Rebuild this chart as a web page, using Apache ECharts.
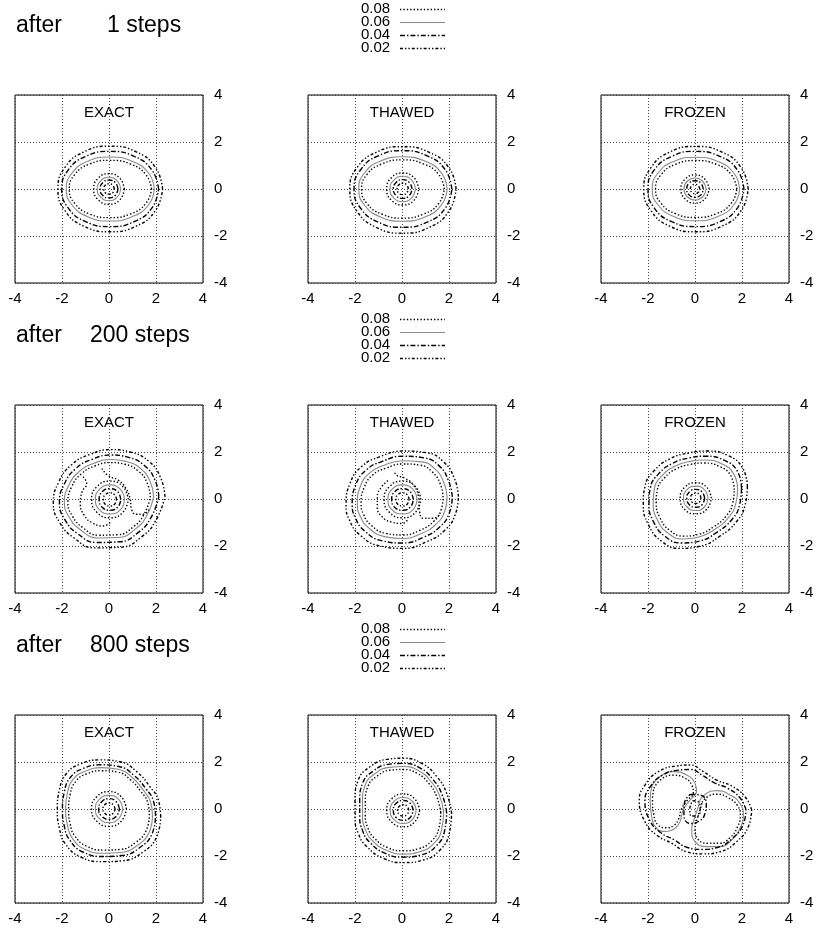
<!DOCTYPE html>
<html><head><meta charset="utf-8">
<script src="https://cdn.jsdelivr.net/npm/echarts@6/dist/echarts.min.js"></script>
<style>html,body{margin:0;padding:0;background:#fff}#c{width:817px;height:930px}</style>
</head><body><div id="c"></div>
<script>
const levels = ['0.08','0.06','0.04','0.02'];
const methods = ['EXACT','THAWED','FROZEN'];
const stepCounts = ['1','200','800'];
const axisMin = -4, axisMax = 4, axisStep = 2;

// ---- after 1 step ----
const E1_08 = [
 [[1.81,0],[1.57,0.61],[0.92,1.06],[0.03,1.22],[-0.83,1.06],[-1.46,0.61],[-1.69,0],[-1.46,-0.61],[-0.83,-1.06],[0.03,-1.22],[0.92,-1.06],[1.57,-0.61]],
 [[0.65,0],[0.46,0.46],[0,0.65],[-0.46,0.46],[-0.65,0],[-0.46,-0.46],[0,-0.65],[0.46,-0.46]]];
const E1_06 = [
 [[1.93,0],[1.68,0.68],[0.98,1.18],[0.03,1.36],[-0.9,1.18],[-1.57,0.68],[-1.82,0],[-1.57,-0.68],[-0.9,-1.18],[0.03,-1.36],[0.98,-1.18],[1.68,-0.68]],
 [[0.5,0],[0.35,0.35],[0,0.5],[-0.35,0.35],[-0.5,0],[-0.35,-0.35],[0,-0.5],[0.35,-0.35]]];
const E1_04 = [
 [[2.11,0],[1.83,0.8],[1.07,1.39],[0.03,1.6],[-0.99,1.39],[-1.74,0.8],[-2.01,0],[-1.74,-0.8],[-0.99,-1.39],[0.03,-1.6],[1.07,-1.39],[1.83,-0.8]],
 [[0.38,0],[0.27,0.27],[0,0.38],[-0.27,0.27],[-0.38,0],[-0.27,-0.27],[0,-0.38],[0.27,-0.27]]];
const E1_02 = [
 [[2.28,0],[1.98,0.91],[1.16,1.58],[0.03,1.82],[-1.07,1.58],[-1.88,0.91],[-2.17,0],[-1.88,-0.91],[-1.07,-1.58],[0.03,-1.82],[1.16,-1.58],[1.98,-0.91]],
 [[0.22,0],[0.16,0.16],[0,0.22],[-0.16,0.16],[-0.22,0],[-0.16,-0.16],[0,-0.22],[0.16,-0.16]]];

const T1_08 = [
 [[1.8,0],[1.56,0.62],[0.91,1.07],[0.02,1.24],[-0.85,1.07],[-1.49,0.62],[-1.72,0],[-1.49,-0.62],[-0.85,-1.07],[0.02,-1.24],[0.91,-1.07],[1.56,-0.62]],
 [[0.71,0],[0.51,0.48],[0.03,0.68],[-0.45,0.48],[-0.65,0],[-0.45,-0.48],[0.03,-0.68],[0.51,-0.48]]];
const T1_06 = [
 [[1.92,0],[1.67,0.69],[0.97,1.19],[0.02,1.37],[-0.91,1.19],[-1.59,0.69],[-1.84,0],[-1.59,-0.69],[-0.91,-1.19],[0.02,-1.37],[0.97,-1.19],[1.67,-0.69]],
 [[0.57,0],[0.41,0.38],[0.03,0.54],[-0.35,0.38],[-0.51,0],[-0.35,-0.38],[0.03,-0.54],[0.41,-0.38]]];
const T1_04 = [
 [[2.12,0],[1.84,0.82],[1.07,1.41],[0.02,1.63],[-1.01,1.41],[-1.76,0.82],[-2.04,0],[-1.76,-0.82],[-1.01,-1.41],[0.02,-1.63],[1.07,-1.41],[1.84,-0.82]],
 [[0.43,0],[0.31,0.28],[0.03,0.4],[-0.25,0.28],[-0.37,0],[-0.25,-0.28],[0.03,-0.4],[0.31,-0.28]]];
const T1_02 = [
 [[2.3,0],[2.0,0.9],[1.16,1.56],[0.02,1.8],[-1.1,1.56],[-1.92,0.9],[-2.22,0],[-1.92,-0.94],[-1.1,-1.63],[0.02,-1.88],[1.16,-1.63],[2.0,-0.94]],
 [[0.27,0],[0.2,0.17],[0.03,0.24],[-0.14,0.17],[-0.21,0],[-0.14,-0.17],[0.03,-0.24],[0.2,-0.17]]];

const F1_08 = [
 [[1.78,0],[1.55,0.6],[0.91,1.05],[0.02,1.21],[-0.83,1.05],[-1.45,0.6],[-1.68,0],[-1.45,-0.6],[-0.83,-1.05],[0.02,-1.21],[0.91,-1.05],[1.55,-0.6]],
 [[0.6,0],[0.42,0.42],[0,0.6],[-0.42,0.42],[-0.6,0],[-0.42,-0.42],[0,-0.6],[0.42,-0.42]]];
const F1_06 = [
 [[1.9,0],[1.65,0.68],[0.97,1.17],[0.02,1.35],[-0.9,1.17],[-1.57,0.68],[-1.82,0],[-1.57,-0.68],[-0.9,-1.17],[0.02,-1.35],[0.97,-1.17],[1.65,-0.68]],
 [[0.47,0],[0.33,0.33],[0,0.47],[-0.33,0.33],[-0.47,0],[-0.33,-0.33],[0,-0.47],[0.33,-0.33]]];
const F1_04 = [
 [[2.08,0],[1.81,0.8],[1.06,1.39],[0.02,1.6],[-0.99,1.39],[-1.74,0.8],[-2.0,0],[-1.74,-0.8],[-0.99,-1.39],[0.02,-1.6],[1.06,-1.39],[1.81,-0.8]],
 [[0.35,0],[0.25,0.25],[0,0.35],[-0.25,0.25],[-0.35,0],[-0.25,-0.25],[0,-0.35],[0.25,-0.25]]];
const F1_02 = [
 [[2.26,0],[1.97,0.9],[1.15,1.57],[0.02,1.81],[-1.08,1.57],[-1.88,0.9],[-2.18,0],[-1.88,-0.91],[-1.08,-1.58],[0.02,-1.82],[1.15,-1.58],[1.97,-0.91]],
 [[0.2,0],[0.14,0.14],[0,0.2],[-0.14,0.14],[-0.2,0],[-0.14,-0.14],[0,-0.2],[0.14,-0.14]]];

// ---- after 200 steps ----
const E2_08 = [
 [[1.76,0.07],[1.63,0.67],[1.26,1.18],[0.67,1.48],[0.07,1.55],[-0.59,1.41],[-1.18,1.07],[-1.59,0.52],[-1.75,-0.13],[-1.55,-0.74],[-1.11,-1.22],[-0.44,-1.54],[0.37,-1.52],[1.04,-1.18],[1.48,-0.67]],
 [[0.82,-0.02],[0.59,0.53],[0.04,0.76],[-0.51,0.53],[-0.74,-0.02],[-0.51,-0.57],[0.04,-0.8],[0.59,-0.57]]];
const E2_06 = [
 [[1.9,0.08],[1.76,0.72],[1.36,1.28],[0.72,1.6],[0.08,1.68],[-0.64,1.52],[-1.28,1.16],[-1.72,0.56],[-1.9,-0.14],[-1.68,-0.8],[-1.2,-1.32],[-0.48,-1.66],[0.4,-1.64],[1.12,-1.28],[1.6,-0.72]],
 [[0.66,-0.02],[0.48,0.42],[0.04,0.6],[-0.4,0.42],[-0.58,-0.02],[-0.4,-0.46],[0.04,-0.64],[0.48,-0.46]]];
const E2_04 = [
 [[2.12,0.09],[1.96,0.8],[1.51,1.42],[0.8,1.78],[0.09,1.87],[-0.71,1.69],[-1.42,1.29],[-1.91,0.62],[-2.11,-0.16],[-1.87,-0.89],[-1.34,-1.47],[-0.53,-1.85],[0.45,-1.82],[1.25,-1.42],[1.78,-0.8]],
 [[0.5,-0.02],[0.37,0.31],[0.04,0.44],[-0.29,0.31],[-0.42,-0.02],[-0.29,-0.35],[0.04,-0.48],[0.37,-0.35]]];
const E2_02 = [
 [[2.38,0.1],[2.2,0.9],[1.7,1.6],[0.9,2.0],[0.1,2.1],[-0.8,1.9],[-1.6,1.45],[-2.15,0.7],[-2.37,-0.18],[-2.1,-1.0],[-1.5,-1.65],[-0.6,-2.08],[0.5,-2.05],[1.4,-1.6],[2.0,-0.9]],
 [[0.32,-0.02],[0.24,0.18],[0.04,0.26],[-0.16,0.18],[-0.24,-0.02],[-0.16,-0.22],[0.04,-0.3],[0.24,-0.22]]];
const E2_ARMS = [
 [[-0.3,1.3],[-0.05,1.0],[0.4,0.8],[0.72,0.45],[0.9,0.0],[0.95,-0.4],[1.15,-0.65],[1.45,-0.65],[1.7,-0.45]],
 [[-1.1,0.95],[-0.95,0.65],[-1.15,0.3],[-1.22,-0.2],[-1.05,-0.7],[-0.7,-1.02],[-0.25,-1.15],[0.05,-1.0]]];

const T2_08 = [
 [[1.75,0.07],[1.63,0.64],[1.28,1.16],[0.77,1.44],[0.04,1.49],[-0.69,1.31],[-1.26,1.01],[-1.61,0.49],[-1.74,-0.19],[-1.64,-0.65],[-1.31,-1.12],[-0.69,-1.46],[0.04,-1.53],[0.77,-1.33],[1.34,-0.96],[1.65,-0.5]],
 [[0.8,-0.02],[0.57,0.53],[0.02,0.76],[-0.53,0.53],[-0.76,-0.02],[-0.53,-0.57],[0.02,-0.8],[0.57,-0.57]]];
const T2_06 = [
 [[1.92,0.08],[1.78,0.7],[1.41,1.27],[0.84,1.58],[0.05,1.63],[-0.75,1.44],[-1.38,1.1],[-1.77,0.54],[-1.9,-0.21],[-1.79,-0.71],[-1.43,-1.22],[-0.75,-1.6],[0.05,-1.68],[0.84,-1.46],[1.46,-1.06],[1.81,-0.54]],
 [[0.64,-0.02],[0.46,0.42],[0.02,0.6],[-0.42,0.42],[-0.6,-0.02],[-0.42,-0.46],[0.02,-0.64],[0.46,-0.46]]];
const T2_04 = [
 [[2.14,0.09],[1.98,0.78],[1.57,1.42],[0.93,1.75],[0.05,1.82],[-0.84,1.6],[-1.53,1.23],[-1.97,0.6],[-2.12,-0.23],[-1.99,-0.79],[-1.59,-1.36],[-0.84,-1.78],[0.05,-1.87],[0.93,-1.62],[1.63,-1.17],[2.01,-0.61]],
 [[0.48,-0.02],[0.35,0.31],[0.02,0.44],[-0.31,0.31],[-0.44,-0.02],[-0.31,-0.35],[0.02,-0.48],[0.35,-0.35]]];
const T2_02 = [
 [[2.4,0.1],[2.23,0.88],[1.76,1.59],[1.05,1.97],[0.06,2.04],[-0.94,1.8],[-1.72,1.38],[-2.21,0.67],[-2.38,-0.26],[-2.24,-0.89],[-1.79,-1.53],[-0.94,-2.0],[0.06,-2.1],[1.05,-1.82],[1.83,-1.32],[2.26,-0.68]],
 [[0.3,-0.02],[0.22,0.18],[0.02,0.26],[-0.18,0.18],[-0.26,-0.02],[-0.18,-0.22],[0.02,-0.3],[0.22,-0.22]]];
const T2_ARMS = [
 [[-0.3,1.12],[-0.26,1.02],[0.13,0.88],[0.48,0.6],[0.7,0.1],[0.74,-0.47],[0.91,-0.82],[1.33,-0.82],[1.65,-0.6]],
 [[-0.6,0.78],[-0.88,0.5],[-1.05,0.1],[-1.05,-0.35],[-0.85,-0.75],[-0.45,-0.98],[0.0,-1.04],[0.27,-0.85]]];

const F2_08 = [
 [[1.67,0.39],[1.52,1.0],[1.05,1.38],[0.4,1.53],[-0.2,1.47],[-0.8,1.28],[-1.3,0.9],[-1.6,0.4],[-1.65,-0.16],[-1.49,-0.8],[-1.07,-1.34],[-0.48,-1.58],[0.16,-1.5],[0.8,-1.18],[1.33,-0.72],[1.6,-0.2]],
 [[0.69,0.03],[0.5,0.5],[0.03,0.69],[-0.44,0.5],[-0.63,0.03],[-0.44,-0.44],[0.03,-0.63],[0.5,-0.44]]];
const F2_06 = [
 [[1.81,0.42],[1.64,1.08],[1.13,1.5],[0.43,1.66],[-0.21,1.6],[-0.86,1.39],[-1.41,0.98],[-1.73,0.43],[-1.78,-0.17],[-1.61,-0.87],[-1.15,-1.45],[-0.52,-1.7],[0.17,-1.62],[0.86,-1.28],[1.43,-0.78],[1.73,-0.22]],
 [[0.55,0.03],[0.4,0.4],[0.03,0.55],[-0.34,0.4],[-0.49,0.03],[-0.34,-0.34],[0.03,-0.49],[0.4,-0.34]]];
const F2_04 = [
 [[1.98,0.46],[1.8,1.19],[1.24,1.65],[0.47,1.82],[-0.23,1.75],[-0.95,1.52],[-1.55,1.07],[-1.9,0.47],[-1.96,-0.18],[-1.77,-0.96],[-1.26,-1.6],[-0.57,-1.87],[0.19,-1.79],[0.94,-1.41],[1.58,-0.86],[1.9,-0.24]],
 [[0.41,0.03],[0.3,0.3],[0.03,0.41],[-0.24,0.3],[-0.35,0.03],[-0.24,-0.24],[0.03,-0.35],[0.3,-0.24]]];
const F2_02 = [
 [[2.23,0.52],[2.02,1.33],[1.4,1.85],[0.53,2.04],[-0.26,1.96],[-1.07,1.71],[-1.74,1.2],[-2.13,0.53],[-2.2,-0.2],[-1.99,-1.08],[-1.42,-1.8],[-0.64,-2.1],[0.21,-2.01],[1.06,-1.58],[1.77,-0.96],[2.13,-0.27]],
 [[0.25,0.03],[0.19,0.19],[0.03,0.25],[-0.13,0.19],[-0.19,0.03],[-0.13,-0.13],[0.03,-0.19],[0.19,-0.13]]];

// ---- after 800 steps ----
const E3_08 = [
 [[1.72,-0.26],[1.64,0.3],[1.36,0.74],[0.92,1.24],[0.37,1.57],[-0.3,1.63],[-0.96,1.49],[-1.4,1.19],[-1.65,0.63],[-1.72,-0.03],[-1.65,-0.64],[-1.46,-1.14],[-0.96,-1.58],[-0.19,-1.75],[0.48,-1.72],[1.14,-1.42],[1.58,-0.92]],
 [[0.74,0],[0.52,0.52],[0,0.74],[-0.52,0.52],[-0.74,0],[-0.52,-0.52],[0,-0.74],[0.52,-0.52]]];
const E3_06 = [
 [[1.85,-0.28],[1.76,0.32],[1.46,0.8],[0.99,1.34],[0.39,1.69],[-0.32,1.76],[-1.03,1.6],[-1.51,1.28],[-1.77,0.68],[-1.85,-0.03],[-1.77,-0.69],[-1.57,-1.23],[-1.03,-1.71],[-0.2,-1.88],[0.51,-1.85],[1.23,-1.53],[1.71,-0.99]],
 [[0.58,0],[0.41,0.41],[0,0.58],[-0.41,0.41],[-0.58,0],[-0.41,-0.41],[0,-0.58],[0.41,-0.41]]];
const E3_04 = [
 [[1.98,-0.3],[1.89,0.34],[1.57,0.86],[1.06,1.43],[0.42,1.81],[-0.34,1.88],[-1.11,1.72],[-1.62,1.37],[-1.9,0.73],[-1.98,-0.04],[-1.9,-0.74],[-1.68,-1.31],[-1.11,-1.83],[-0.22,-2.02],[0.55,-1.98],[1.31,-1.64],[1.83,-1.06]],
 [[0.44,0],[0.31,0.31],[0,0.44],[-0.31,0.31],[-0.44,0],[-0.31,-0.31],[0,-0.44],[0.31,-0.31]]];
const E3_02 = [
 [[2.2,-0.33],[2.1,0.38],[1.74,0.95],[1.18,1.59],[0.47,2.01],[-0.38,2.09],[-1.23,1.91],[-1.8,1.52],[-2.11,0.81],[-2.2,-0.04],[-2.11,-0.82],[-1.87,-1.46],[-1.23,-2.03],[-0.24,-2.24],[0.61,-2.2],[1.46,-1.82],[2.03,-1.18]],
 [[0.26,0],[0.18,0.18],[0,0.26],[-0.18,0.18],[-0.26,0],[-0.18,-0.18],[0,-0.26],[0.18,-0.18]]];

const T3_08 = [
 [[1.65,-0.14],[1.48,0.52],[1.15,1.08],[0.66,1.51],[0.05,1.68],[-0.51,1.65],[-1.06,1.4],[-1.45,0.96],[-1.56,0.3],[-1.56,-0.26],[-1.45,-0.81],[-1.17,-1.25],[-0.62,-1.64],[0.05,-1.78],[0.71,-1.69],[1.26,-1.36],[1.57,-0.81]],
 [[0.75,-0.06],[0.54,0.43],[0.05,0.64],[-0.44,0.43],[-0.65,-0.06],[-0.44,-0.55],[0.05,-0.76],[0.54,-0.55]]];
const T3_06 = [
 [[1.77,-0.15],[1.6,0.56],[1.24,1.16],[0.71,1.63],[0.05,1.81],[-0.55,1.77],[-1.14,1.51],[-1.56,1.03],[-1.68,0.32],[-1.68,-0.28],[-1.56,-0.87],[-1.26,-1.34],[-0.66,-1.76],[0.05,-1.92],[0.76,-1.82],[1.36,-1.46],[1.69,-0.87]],
 [[0.6,-0.06],[0.44,0.33],[0.05,0.49],[-0.34,0.33],[-0.5,-0.06],[-0.34,-0.45],[0.05,-0.61],[0.44,-0.45]]];
const T3_04 = [
 [[1.9,-0.16],[1.71,0.6],[1.33,1.24],[0.76,1.75],[0.05,1.94],[-0.59,1.9],[-1.22,1.62],[-1.67,1.11],[-1.8,0.34],[-1.8,-0.3],[-1.67,-0.94],[-1.35,-1.44],[-0.71,-1.89],[0.05,-2.05],[0.82,-1.95],[1.46,-1.57],[1.81,-0.94]],
 [[0.47,-0.06],[0.35,0.24],[0.05,0.36],[-0.25,0.24],[-0.37,-0.06],[-0.25,-0.36],[0.05,-0.48],[0.35,-0.36]]];
const T3_02 = [
 [[2.11,-0.18],[1.9,0.67],[1.48,1.38],[0.84,1.94],[0.06,2.16],[-0.65,2.11],[-1.36,1.8],[-1.86,1.23],[-2.0,0.38],[-2.0,-0.33],[-1.86,-1.04],[-1.5,-1.6],[-0.79,-2.1],[0.06,-2.28],[0.91,-2.17],[1.62,-1.74],[2.01,-1.04]],
 [[0.29,-0.06],[0.22,0.11],[0.05,0.18],[-0.12,0.11],[-0.19,-0.06],[-0.12,-0.23],[0.05,-0.3],[0.22,-0.23]]];

const F3_08 = [
 [[-1.75,0.88],[-1.44,1.26],[-0.94,1.44],[-0.44,1.32],[-0.13,1.0],[-0.07,0.69],[-0.32,0.38],[-0.57,0.01],[-0.7,-0.43],[-0.88,-0.68],[-1.2,-0.8],[-1.57,-0.68],[-1.75,-0.25],[-1.81,0.38]],
 [[0.3,0.28],[0.56,0.54],[0.93,0.63],[1.43,0.47],[1.8,0.16],[1.93,-0.28],[1.8,-0.78],[1.49,-1.22],[1.05,-1.46],[0.56,-1.46],[0.12,-1.28],[0.0,-0.84],[0.12,-0.34],[0.24,0.03]]];
const F3_06 = [
 [[-1.84,0.95],[-1.49,1.38],[-0.92,1.59],[-0.35,1.45],[0,1.09],[0.07,0.74],[-0.21,0.38],[-0.5,-0.04],[-0.64,-0.54],[-0.85,-0.82],[-1.21,-0.96],[-1.63,-0.82],[-1.84,-0.33],[-1.91,0.38]],
 [[0.21,0.38],[0.5,0.67],[0.92,0.78],[1.49,0.6],[1.91,0.24],[2.06,-0.26],[1.91,-0.82],[1.56,-1.32],[1.06,-1.6],[0.5,-1.6],[0,-1.39],[-0.14,-0.89],[0,-0.33],[0.14,0.1]]];
const F3_04 = [
 [[2.17,-0.04],[1.92,0.47],[1.4,0.88],[0.83,1.11],[0.32,1.43],[-0.19,1.68],[-0.7,1.65],[-1.4,1.43],[-1.92,0.92],[-2.13,0.34],[-1.92,-0.49],[-1.47,-1.0],[-0.89,-1.31],[-0.32,-1.64],[0.32,-1.72],[0.95,-1.64],[1.59,-1.25],[2.04,-0.68]],
 [[-0.2,0.62],[0.2,0.6],[0.48,0.25],[0.42,-0.2],[0.2,-0.5],[-0.2,-0.62],[-0.47,-0.25],[-0.45,0.25]]];
const F3_02 = [
 [[2.41,-0.04],[2.13,0.52],[1.56,0.98],[0.92,1.23],[0.35,1.59],[-0.21,1.87],[-0.78,1.83],[-1.56,1.59],[-2.13,1.02],[-2.37,0.38],[-2.13,-0.54],[-1.63,-1.11],[-0.99,-1.46],[-0.35,-1.82],[0.35,-1.91],[1.06,-1.82],[1.77,-1.39],[2.27,-0.75]],
 [[-0.1,0.35],[0.15,0.3],[0.22,0.0],[0.1,-0.3],[-0.15,-0.3],[-0.22,0.0]]];

// ---- assemble ----
const panelRows = [
  [[E1_08,E1_06,E1_04,E1_02,[]],[T1_08,T1_06,T1_04,T1_02,[]],[F1_08,F1_06,F1_04,F1_02,[]]],
  [[E2_08,E2_06,E2_04,E2_02,E2_ARMS],[T2_08,T2_06,T2_04,T2_02,T2_ARMS],[F2_08,F2_06,F2_04,F2_02,[]]],
  [[E3_08,E3_06,E3_04,E3_02,[]],[T3_08,T3_06,T3_04,T3_02,[]],[F3_08,F3_06,F3_04,F3_02,[]]]
];

const FONT = 'Liberation Sans, Arial, Helvetica, sans-serif';
const levelStyle = {
  '0.08': {color:'#000', type:[1.4,2], width:1.4},
  '0.06': {color:'#8a8a8a', type:'solid', width:1.1},
  '0.04': {color:'#000', type:[5,2,1.4,2], width:1.4},
  '0.02': {color:'#000', type:[3,2,1.4,2,1.4,2], width:1.4}
};
const G = {left0:15, top0:95, dx:293, dy:310, size:188};

const grids=[], xAxes=[], yAxes=[], series=[], graphics=[];
const axisCommon = {
  type:'value', min:axisMin, max:axisMax, interval:axisStep,
  axisLine:{show:false}, axisTick:{show:false},
  splitLine:{show:true, lineStyle:{color:'#444', type:[1,2], width:1}},
  axisLabel:{color:'#000', fontSize:15, fontFamily:FONT}
};
panelRows.forEach((row, r) => {
  row.forEach((panel, c) => {
    const gi = r*3 + c;
    const left = G.left0 + c*G.dx, top = G.top0 + r*G.dy;
    grids.push({left, top, width:G.size, height:G.size, show:true, borderColor:'#000', borderWidth:1, backgroundColor:'transparent'});
    xAxes.push(Object.assign({}, axisCommon, {gridIndex:gi, position:'bottom', axisLabel:Object.assign({}, axisCommon.axisLabel, {margin:8})}));
    yAxes.push(Object.assign({}, axisCommon, {gridIndex:gi, position:'right', axisLabel:Object.assign({}, axisCommon.axisLabel, {margin:11})}));
    levels.forEach((lv, li) => {
      panel[li].forEach(curve => {
        series.push({
          name:lv, type:'line', xAxisIndex:gi, yAxisIndex:gi,
          data: curve.concat([curve[0]]), showSymbol:false, symbol:'none', smooth:0.5,
          lineStyle: levelStyle[lv], itemStyle:{color:levelStyle[lv].color}, silent:true, animation:false, z:3
        });
      });
    });
    panel[4].forEach(curve => {
      series.push({
        name:'0.08', type:'line', xAxisIndex:gi, yAxisIndex:gi,
        data: curve, showSymbol:false, symbol:'none', smooth:0.5,
        lineStyle: levelStyle['0.08'], itemStyle:{color:'#000'}, silent:true, animation:false, z:3
      });
    });
    graphics.push({type:'text', x:left + G.size/2, y:top + 18,
      style:{text:methods[c], font:'15px '+FONT, fill:'#000', align:'center', verticalAlign:'middle'}});
  });
  graphics.push({type:'text', x:16, y:26 + r*G.dy,
    style:{text:'after', font:'23px '+FONT, fill:'#000', align:'left', verticalAlign:'middle'}});
  graphics.push({type:'text', x:(stepCounts[r].length>1?90:107), y:26 + r*G.dy,
    style:{text:stepCounts[r]+' steps', font:'23px '+FONT, fill:'#000', align:'left', verticalAlign:'middle'}});
  // legend (key) for this row
  levels.forEach((lv, i) => {
    const y = 9 + i*13 + r*G.dy;
    graphics.push({type:'text', x:361, y,
      style:{text:lv, font:'15px '+FONT, fill:'#000', align:'left', verticalAlign:'middle'}});
    const st = levelStyle[lv];
    graphics.push({type:'line', shape:{x1:400, y1:y+0.5, x2:445, y2:y+0.5},
      style:{stroke:st.color, lineWidth:st.width, lineDash:(st.type==='solid'?null:st.type)}});
  });
});

const chart = echarts.init(document.getElementById('c'), null, {renderer:'canvas'});
chart.setOption({
  backgroundColor:'#fff', animation:false,
  grid:grids, xAxis:xAxes, yAxis:yAxes, series, graphic:graphics
});
</script></body></html>
